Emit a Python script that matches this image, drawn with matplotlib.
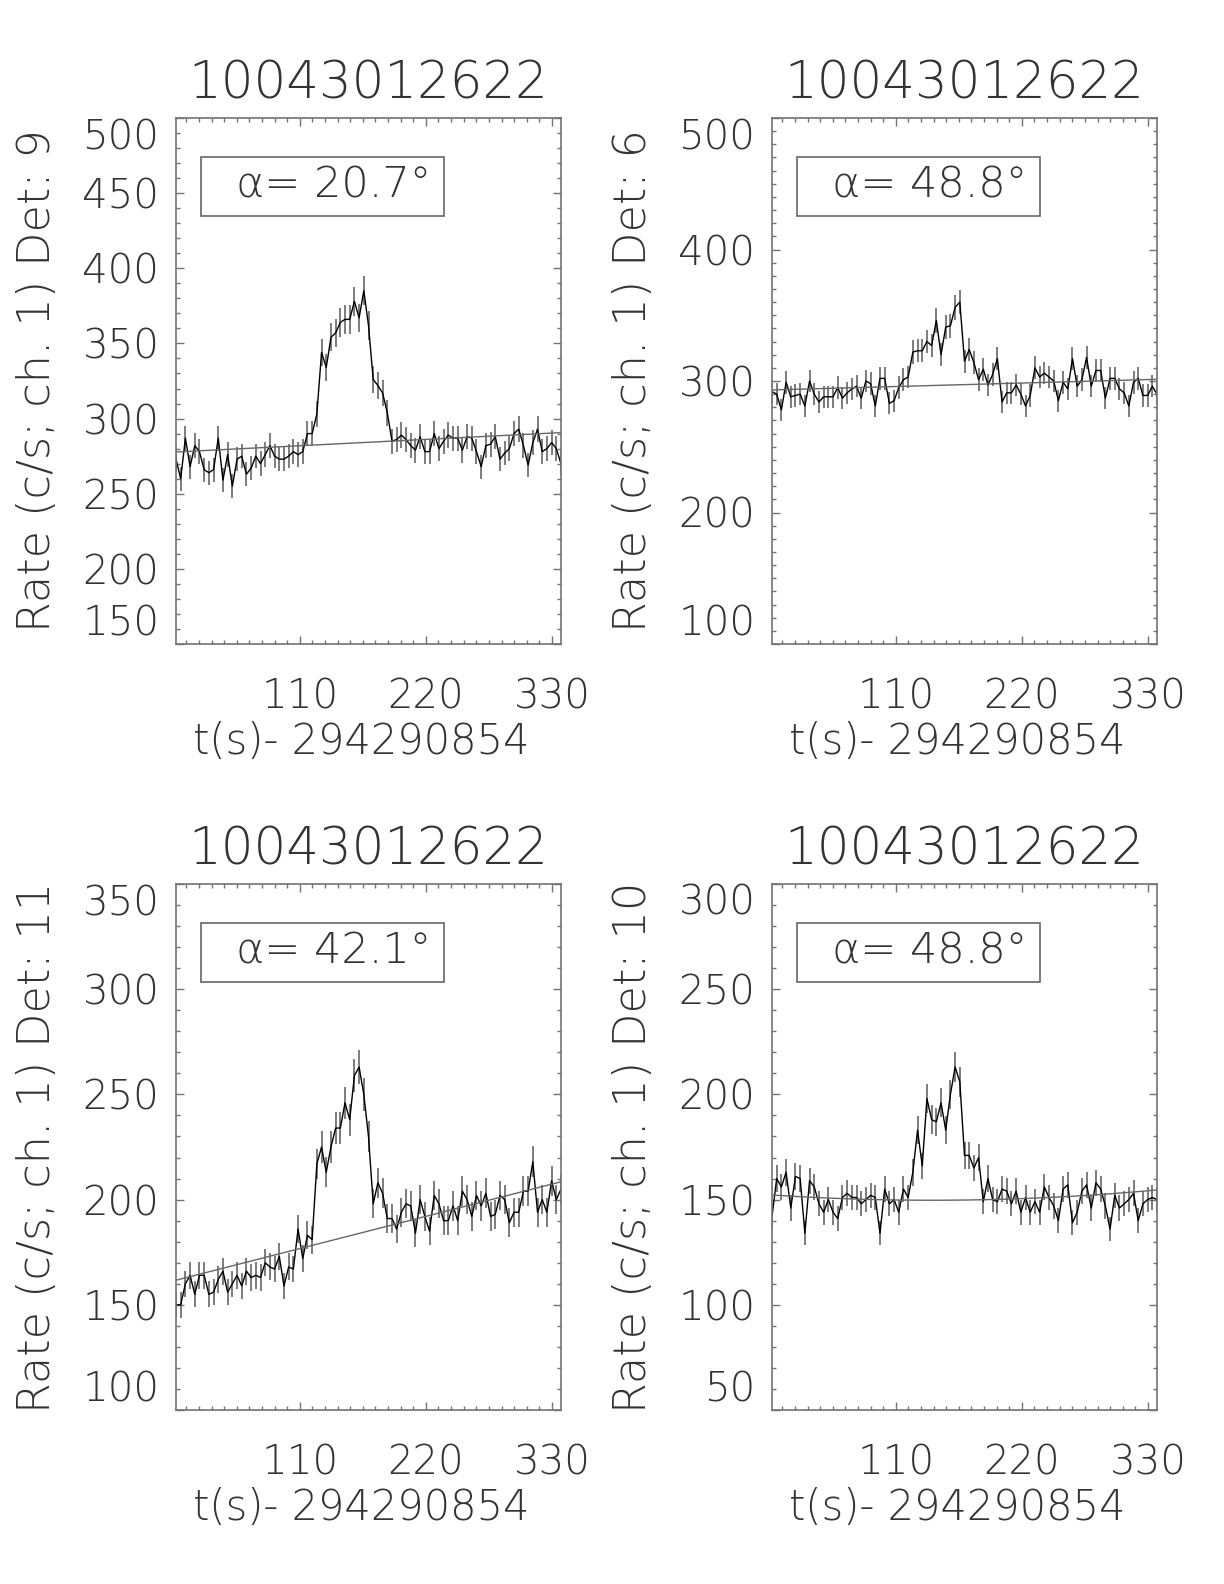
import numpy as np
import matplotlib
matplotlib.use("Agg")
import matplotlib.pyplot as plt
from matplotlib import font_manager as fm
from matplotlib.patches import Rectangle
from matplotlib.ticker import MultipleLocator

# thin stroke-like font if one is installed (IDL Hershey look)
def pick_thin_font():
    prefs = ["dejavu sans", "roboto", "lato", "open sans", "noto sans", "inter"]
    for p in prefs:
        found = []
        for f in fm.fontManager.ttflist:
            w = f.weight if isinstance(f.weight, int) else fm.weight_dict.get(f.weight, 400)
            nm = f.name.lower()
            if nm.startswith(p) and "mono" not in nm and "cond" not in nm and f.stretch == "normal" and w <= 300:
                found.append((w, f.name))
        if found:
            found.sort()
            return found[-1][1], found[-1][0]
    return "DejaVu Sans", 400

fam, wgt = pick_thin_font()
plt.rcParams["font.family"] = [fam, "DejaVu Sans"]
plt.rcParams["font.weight"] = wgt
plt.rcParams["axes.titleweight"] = wgt
plt.rcParams["axes.labelweight"] = wgt

# ---- data ----
title = "10043012622"
xlabel = "t(s)- 294290854"
t0 = 2.0
dt = 4.096          # bin width (s)

dets = [9, 6, 11, 10]
alphas = ["20.7", "48.8", "42.1", "48.8"]
ylims = [(150, 500), (100, 500), (100, 350), (50, 300)]
ymajor = [50, 100, 50, 50]

rate_det9 = [273, 260, 287, 268, 282, 278, 266, 264, 266, 287,
             259, 276, 255, 273, 275, 263, 267, 275, 270, 276,
             282, 275, 273, 273, 275, 278, 276, 278, 290, 290,
             303, 344, 334, 354, 357, 364, 366, 366, 378, 367,
             385, 362, 326, 322, 317, 304, 285, 286, 289, 286,
             282, 279, 288, 278, 278, 290, 280, 285, 289, 287,
             287, 279, 288, 287, 278, 268, 282, 283, 288, 273,
             277, 280, 290, 293, 282, 269, 284, 293, 278, 280,
             284, 280, 270]
rate_det6 = [292, 290, 278, 299, 288, 289, 290, 281, 300, 290,
             284, 288, 288, 288, 295, 287, 291, 294, 296, 287,
             300, 298, 281, 302, 302, 283, 285, 295, 301, 303,
             322, 323, 323, 330, 327, 346, 320, 341, 342, 356,
             360, 315, 324, 314, 301, 309, 297, 305, 317, 284,
             291, 291, 297, 290, 281, 289, 310, 303, 306, 303,
             300, 285, 299, 294, 317, 296, 301, 318, 296, 308,
             308, 287, 302, 302, 294, 291, 281, 299, 302, 289,
             289, 296, 290]
rate_det11 = [150, 150, 160, 164, 155, 164, 164, 155, 156, 162,
              166, 156, 160, 164, 159, 166, 163, 164, 163, 170,
              168, 167, 173, 159, 168, 167, 186, 172, 183, 181,
              217, 225, 213, 225, 234, 234, 246, 238, 259, 263,
              250, 230, 198, 208, 203, 191, 191, 186, 194, 198,
              197, 184, 200, 192, 185, 202, 198, 190, 190, 197,
              190, 204, 200, 192, 202, 197, 203, 192, 193, 202,
              200, 189, 194, 194, 204, 204, 218, 194, 200, 194,
              209, 200, 205]
rate_det10 = [142, 160, 156, 163, 146, 161, 160, 134, 159, 156,
              148, 144, 150, 144, 141, 151, 153, 151, 151, 148,
              150, 152, 151, 134, 155, 148, 150, 144, 155, 151,
              163, 183, 166, 198, 188, 187, 196, 183, 200, 213,
              206, 171, 171, 165, 170, 149, 160, 150, 149, 155,
              154, 148, 154, 144, 151, 144, 149, 144, 156, 151,
              147, 140, 155, 157, 139, 144, 154, 157, 146, 158,
              155, 147, 136, 152, 146, 148, 150, 153, 140, 148,
              150, 151, 150]
rates = [rate_det9, rate_det6, rate_det11, rate_det10]

# background fits (polyval coefficients)
bkg_coefs = [[0.0384, 277.7],
             [0.0241, 293.15],
             [0.1393, 161.4],
             [1.2755e-4, -0.03623, 152.27]]

# ---- figure ----
fig = plt.figure(figsize=(12.24, 15.84), dpi=100)
W, H = 1224.0, 1584.0
boxes = [(176, 644), (772, 644), (176, 1410), (772, 1410)]
aw, ah = 385, 526
txt_col = "0.2"
fr_col = "0.45"

for i in range(4):
    x0, yb = boxes[i]
    ax = fig.add_axes([x0 / W, 1 - yb / H, aw / W, ah / H])
    r = np.array(rates[i], dtype=float)
    t = t0 + dt * np.arange(len(r))
    err = np.sqrt(r * dt) / dt

    ax.errorbar(t, r, yerr=err, fmt="none", ecolor="0.35", elinewidth=1.1, capsize=0)
    ax.plot(t, r, color="k", lw=1.0)
    ax.plot(t, np.polyval(bkg_coefs[i], t), color="0.4", lw=1.0)

    ax.set_xlim(t[0], t[-1])
    ax.set_ylim(*ylims[i])
    ax.xaxis.set_minor_locator(MultipleLocator(11))
    ax.yaxis.set_minor_locator(MultipleLocator(10))
    ax.set_xticks([110, 220, 330])
    ax.set_xticklabels(["110", "220", "330"])
    yt = np.arange(ylims[i][0], ylims[i][1] + 1, ymajor[i])
    ax.set_yticks(yt)
    ax.set_yticklabels([str(v) for v in yt])

    ax.tick_params(which="both", direction="in", top=True, right=True,
                   color=fr_col, labelcolor=txt_col, labelsize=29)
    ax.tick_params(which="major", length=6, width=1.0)
    ax.tick_params(which="minor", length=3, width=1.0)
    ax.tick_params(axis="x", pad=24)
    ax.tick_params(axis="y", pad=12)
    for s in ax.spines.values():
        s.set_color(fr_col)
        s.set_linewidth(1.2)

    ylbls = ax.get_yticklabels()
    for lb in ylbls:
        lb.set_va("center_baseline")
    ylbls[0].set_va("bottom")
    ylbls[-1].set_va("top")

    ax.set_title(title, fontsize=37, color=txt_col, pad=14)
    ax.set_xlabel(xlabel, fontsize=30, color=txt_col)
    ax.xaxis.set_label_coords(0.48, -0.186)
    ax.xaxis.label.set_va("center")
    ax.set_ylabel("Rate (c/s; ch. 1) Det: %d" % dets[i], fontsize=32, color=txt_col)
    ax.yaxis.set_label_coords(-0.36, 0.5)
    ax.yaxis.label.set_va("center")

    ax.add_patch(Rectangle((0.066, 0.813), 0.629, 0.112, transform=ax.transAxes,
                           fill=False, edgecolor="0.4", lw=1.2))
    ax.text(0.41, 0.872, "\u03b1= " + alphas[i] + "\u00b0", transform=ax.transAxes,
            ha="center", va="center", fontsize=31, color=txt_col)

fig.savefig("out.png", dpi=100, facecolor="white")
